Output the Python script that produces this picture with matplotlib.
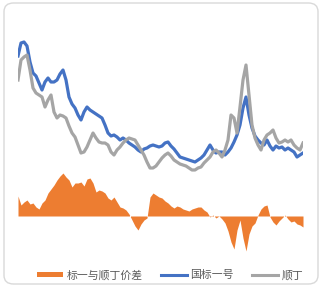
import numpy as np
import matplotlib
matplotlib.use("Agg")
import matplotlib.pyplot as plt
from matplotlib.patches import FancyBboxPatch, Patch
from matplotlib.lines import Line2D

plt.rcParams['font.family'] = ['Noto Sans CJK SC', 'DejaVu Sans']

# 国标一号 价格
biao1 = [25400, 26700, 26800, 26400, 24800, 23700, 23400, 22700, 22000, 22800,
         23200, 22800, 22800, 23000, 23600, 24000, 23000, 21300, 20600, 20200,
         19500, 19000, 19800, 20300, 20000, 19800, 19600, 19400, 19200, 18500,
         17700, 17400, 17500, 17300, 17000, 17200, 17000, 16700, 16500, 16300,
         16000, 15800, 16100, 16200, 16400, 16500, 16400, 16300, 16400, 16700,
         16800, 16400, 16100, 15700, 15300, 15200, 15100, 15000, 14900, 14800,
         15000, 15200, 15500, 16000, 16500, 16000, 15700, 15800, 15800, 15500,
         15800, 16200, 16800, 17500, 18500, 20200, 21300, 19500, 18200, 17400,
         17000, 16700, 16500, 17000, 16400, 16000, 16400, 16200, 16300, 16000,
         16200, 16000, 15800, 15300, 15500, 15700]

# 顺丁 价格
shunding = [23000, 25000, 25300, 25500, 24000, 22200, 21700, 21500, 21300, 20300,
            21000, 21500, 19800, 19200, 19500, 19400, 19200, 18400, 17700, 17300,
            16500, 15700, 15800, 16300, 17000, 17700, 17200, 16800, 16700, 16700,
            16500, 15800, 15500, 16000, 16300, 16700, 17000, 17200, 17100, 17000,
            16500, 16000, 15500, 14800, 14200, 14200, 14400, 14800, 15200, 15500,
            15700, 15400, 15000, 14800, 14600, 14500, 14400, 14200, 14000, 14000,
            14200, 14300, 14700, 15000, 15300, 15800, 16000, 15700, 15300, 16000,
            17000, 19500, 19200, 17700, 20300, 23000, 24500, 21500, 18500, 17200,
            16500, 16000, 17000, 17500, 17700, 18000, 17200, 16700, 16800, 17000,
            16800, 17000, 16500, 16200, 16000, 16700]

# 标一与顺丁价差
spread = [2000, 1100, 1400, 1600, 1200, 1300, 900, 700, 1300, 1600,
          2300, 2700, 3100, 3600, 4000, 4300, 3900, 3600, 2900, 3300,
          3300, 3400, 3000, 3700, 3800, 3300, 2400, 2600, 2500, 2300,
          1800, 1600, 1900, 1400, 900, 800, 600, 200, -400, -1000,
          -1400, -800, -400, -200, 1900, 2300, 2100, 1900, 1800, 1500,
          1300, 1000, 800, 1000, 900, 700, 600, 500, 700, 800,
          900, 900, 600, 400, -100, 100, -200, 0, -300, -700,
          -1500, -2600, -3300, -1400, -400, -2200, -3500, -1800, -1000, -700,
          100, 700, 1000, 1100, -100, -600, -900, -500, -200, 100,
          -300, -600, -500, -800, -900, -1100]

labels = ['标一与顺丁价差', '国标一号', '顺丁']
c_orange = '#ED7D31'
c_blue = '#4472C4'
c_gray = '#A5A5A5'

x = np.arange(len(biao1))

fig = plt.figure(figsize=(3.21, 2.88), dpi=100)
fig.patch.set_facecolor('white')

# 圆角外框
frame = FancyBboxPatch((4/321, 4/288), 314/321, 281/288,
                       boxstyle="round,pad=0,rounding_size=0.03",
                       transform=fig.transFigure, facecolor='none',
                       edgecolor='#D9D9D9', linewidth=1.0, zorder=-1)
fig.patches.append(frame)

pos = [18/321, 28/288, 285/321, 225/288]
ax = fig.add_axes(pos)
ax.fill_between(x, 0, spread, color=c_orange, linewidth=0)
ax.set_xlim(0, len(x) - 1)
ax.set_ylim(-4400, 18100)
ax.axis('off')

ax2 = fig.add_axes(pos)
ax2.patch.set_alpha(0)
ax2.plot(x, biao1, color=c_blue, lw=2.3)
ax2.plot(x, shunding, color=c_gray, lw=2.3)
ax2.set_xlim(0, len(x) - 1)
ax2.set_ylim(5000, 27500)
ax2.axis('off')

handles = [Patch(facecolor=c_orange, edgecolor='none'),
           Line2D([], [], color=c_blue, lw=2.2),
           Line2D([], [], color=c_gray, lw=2.2)]
fig.legend(handles, labels, loc='center', bbox_to_anchor=(0.53, 0.045),
           ncol=3, frameon=False, fontsize=7.8, handlelength=2.4,
           handleheight=0.45, handletextpad=0.3, columnspacing=1.7,
           labelcolor='#595959')

fig.savefig('out.png', dpi=100, facecolor='white')
